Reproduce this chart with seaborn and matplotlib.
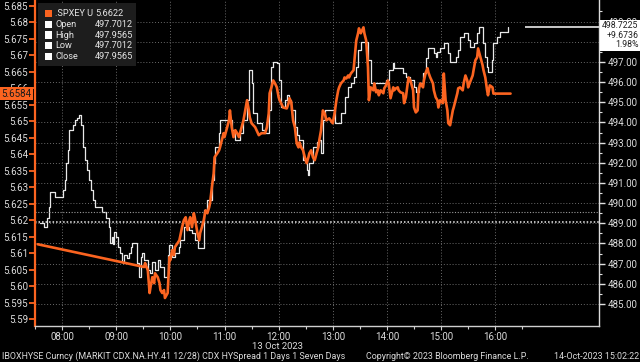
import matplotlib
matplotlib.use("Agg")
import matplotlib.pyplot as plt
from matplotlib.patches import Rectangle
import pandas as pd
import seaborn as sns

DAY = "2023-10-13 "
ORANGE = "#fb6420"
WHITE = "#e8e8e8"
TXT = "#dcdcdc"
GRID = "#6a6a6a"

# ---- .SPXEY U (left axis) ----
spx_times = ["07:33", "09:31", "09:32", "09:35", "09:37", "09:38", "09:40", "09:42", "09:43", "09:46",
             "09:48", "09:49", "09:51", "09:53", "09:54", "09:57", "09:59", "10:00", "10:02", "10:04",
             "10:05", "10:10", "10:13", "10:15", "10:17", "10:19", "10:21", "10:22", "10:24", "10:26",
             "10:27", "10:30", "10:32", "10:33", "10:35", "10:37", "10:39", "10:41", "10:43", "10:44",
             "10:46", "10:48", "10:49", "10:52", "10:54", "10:55", "10:57", "10:59", "11:00", "11:03",
             "11:05", "11:06", "11:08", "11:10", "11:12", "11:14", "11:16", "11:19", "11:21", "11:23",
             "11:25", "11:27", "11:28", "11:30", "11:34", "11:38", "11:41", "11:45", "11:47", "11:49",
             "11:50", "11:52", "11:54", "11:56", "11:58", "12:00", "12:01", "12:05", "12:09", "12:11",
             "12:12", "12:14", "12:16", "12:18", "12:20", "12:22", "12:23", "12:25", "12:27", "12:29",
             "12:31", "12:33", "12:34", "12:36", "12:38", "12:40", "12:42", "12:44", "12:45", "12:47",
             "12:49", "12:51", "12:53", "12:56", "13:00", "13:02", "13:04", "13:06", "13:07", "13:09",
             "13:12", "13:13", "13:15", "13:17", "13:18", "13:20", "13:23", "13:24", "13:26", "13:28",
             "13:29", "13:31", "13:34", "13:35", "13:37", "13:39", "13:40", "13:42", "13:45", "13:46",
             "13:48", "13:50", "13:51", "13:53", "13:56", "13:57", "13:59", "14:01", "14:02", "14:04",
             "14:07", "14:08", "14:10", "14:12", "14:13", "14:15", "14:18", "14:19", "14:21", "14:23",
             "14:24", "14:26", "14:29", "14:30", "14:32", "14:34", "14:35", "14:37", "14:40", "14:41",
             "14:43", "14:45", "14:46", "14:48", "14:51", "14:52", "14:54", "14:56", "14:57", "14:59",
             "15:02", "15:03", "15:05", "15:07", "15:08", "15:10", "15:13", "15:14", "15:16", "15:18",
             "15:19", "15:21", "15:24", "15:25", "15:27", "15:29", "15:30", "15:32", "15:35", "15:36",
             "15:38", "15:40", "15:41", "15:44", "15:46", "15:47", "15:49", "15:51", "15:52", "15:54",
             "15:57", "15:58", "16:17"]
spx_values = [5.6127, 5.6058, 5.6070, 5.6048, 5.5979, 5.5997, 5.6027, 5.6009, 5.6039, 5.6027,
              5.6009, 5.5988, 5.5979, 5.5988, 5.5964, 5.5979, 5.6088, 5.6079, 5.6109, 5.6094,
              5.6118, 5.6139, 5.6179, 5.6200, 5.6209, 5.6170, 5.6200, 5.6209, 5.6179, 5.6221,
              5.6209, 5.6161, 5.6139, 5.6161, 5.6179, 5.6200, 5.6230, 5.6221, 5.6239, 5.6252,
              5.6300, 5.6342, 5.6391, 5.6403, 5.6412, 5.6421, 5.6442, 5.6464, 5.6452, 5.6482,
              5.6503, 5.6533, 5.6482, 5.6452, 5.6473, 5.6464, 5.6452, 5.6482, 5.6503, 5.6533,
              5.6564, 5.6533, 5.6512, 5.6494, 5.6482, 5.6458, 5.6464, 5.6464, 5.6482, 5.6524,
              5.6585, 5.6603, 5.6624, 5.6615, 5.6603, 5.6573, 5.6564, 5.6542, 5.6539, 5.6555,
              5.6570, 5.6558, 5.6503, 5.6482, 5.6433, 5.6421, 5.6436, 5.6421, 5.6412, 5.6391,
              5.6373, 5.6391, 5.6403, 5.6412, 5.6391, 5.6382, 5.6403, 5.6421, 5.6442, 5.6473,
              5.6533, 5.6524, 5.6503, 5.6509, 5.6494, 5.6524, 5.6564, 5.6594, 5.6603, 5.6615,
              5.6624, 5.6633, 5.6630, 5.6639, 5.6633, 5.6645, 5.6655, 5.6685, 5.6745, 5.6767,
              5.6782, 5.6767, 5.6785, 5.6767, 5.6745, 5.6664, 5.6564, 5.6603, 5.6594, 5.6615,
              5.6588, 5.6594, 5.6579, 5.6594, 5.6585, 5.6600, 5.6609, 5.6624, 5.6615, 5.6570,
              5.6603, 5.6594, 5.6600, 5.6603, 5.6594, 5.6588, 5.6585, 5.6555, 5.6573, 5.6615,
              5.6633, 5.6624, 5.6594, 5.6542, 5.6527, 5.6533, 5.6594, 5.6615, 5.6603, 5.6624,
              5.6648, 5.6661, 5.6648, 5.6633, 5.6615, 5.6594, 5.6573, 5.6564, 5.6542, 5.6564,
              5.6555, 5.6645, 5.6564, 5.6533, 5.6494, 5.6488, 5.6533, 5.6542, 5.6564, 5.6585,
              5.6600, 5.6603, 5.6594, 5.6615, 5.6639, 5.6624, 5.6603, 5.6618, 5.6639, 5.6655,
              5.6685, 5.6694, 5.6721, 5.6691, 5.6670, 5.6655, 5.6633, 5.6594, 5.6579, 5.6609,
              5.6603, 5.6584, 5.6584]

# ---- IBOXHYSE (right axis, step line) ----
cdx_times = ["07:36", "07:40", "07:43", "07:45", "07:47", "07:52", "08:01", "08:03", "08:04", "08:07",
             "08:08", "08:12", "08:14", "08:16", "08:19", "08:21", "08:23", "08:25", "08:28", "08:30",
             "08:32", "08:34", "08:37", "08:44", "08:49", "08:52", "08:53", "08:55", "08:56", "08:58",
             "09:00", "09:02", "09:04", "09:06", "09:08", "09:09", "09:12", "09:14", "09:16", "09:18",
             "09:23", "09:25", "09:27", "09:29", "09:31", "09:35", "09:37", "09:40", "09:43", "09:46",
             "09:49", "09:53", "09:57", "09:59", "10:02", "10:05", "10:10", "10:11", "10:15", "10:21",
             "10:24", "10:27", "10:31", "10:37", "10:41", "10:46", "10:48", "10:49", "10:54", "10:55",
             "11:08", "11:12", "11:17", "11:21", "11:25", "11:27", "11:30", "11:32", "11:36", "11:41",
             "11:45", "11:49", "11:52", "11:54", "11:58", "12:00", "12:03", "12:07", "12:09", "12:12",
             "12:14", "12:18", "12:20", "12:23", "12:27", "12:31", "12:33", "12:34", "12:38", "12:42",
             "12:45", "12:47", "12:49", "12:51", "13:02", "13:09", "13:13", "13:17", "13:20", "13:24",
             "13:26", "13:28", "13:31", "13:39", "13:42", "13:59", "14:02", "14:07", "14:08", "14:18",
             "14:21", "14:26", "14:30", "14:32", "14:35", "14:40", "14:43", "14:45", "14:52", "14:54",
             "14:56", "14:59", "15:03", "15:08", "15:10", "15:16", "15:19", "15:21", "15:25", "15:30",
             "15:32", "15:36", "15:40", "15:42", "15:46", "15:47", "15:49", "15:51", "15:52", "15:56",
             "15:58", "16:02", "16:05", "16:14"]
cdx_values = [489.02, 488.82, 489.27, 489.81, 490.55, 490.31, 490.65, 491.15, 491.99, 492.64,
              493.63, 493.88, 494.12, 494.22, 494.37, 493.88, 492.79, 492.14, 491.65, 491.15,
              490.65, 490.16, 489.81, 489.56, 489.27, 488.82, 488.03, 488.32, 487.98, 488.57,
              488.32, 487.83, 487.53, 487.08, 487.04, 487.43, 487.28, 487.53, 487.83, 488.03,
              487.04, 486.34, 487.33, 487.53, 487.18, 486.69, 486.54, 487.08, 486.69, 487.18,
              486.84, 486.34, 487.43, 487.93, 487.33, 487.53, 487.83, 488.18, 488.82, 488.67,
              488.52, 488.18, 487.78, 489.66, 490.16, 491.15, 491.99, 492.79, 493.48, 494.12,
              493.63, 493.13, 493.48, 494.12, 495.12, 496.60, 495.96, 494.47, 493.98, 493.63,
              493.48, 494.62, 496.75, 497.00, 496.95, 496.11, 494.77, 495.12, 495.36, 495.12,
              494.62, 493.78, 493.38, 493.13, 492.14, 491.65, 491.40, 491.99, 492.79, 493.03,
              493.13, 492.49, 494.12, 494.62, 493.98, 494.47, 495.26, 495.76, 495.96, 496.26,
              496.75, 497.59, 497.99, 497.10, 495.96, 496.11, 496.60, 496.95, 496.70, 496.45,
              496.26, 496.11, 495.76, 495.51, 495.96, 496.45, 497.20, 497.69, 497.45, 497.25,
              497.50, 497.69, 497.94, 497.45, 497.00, 497.25, 497.59, 498.24, 498.44, 498.09,
              497.74, 497.94, 498.44, 498.74, 498.69, 497.94, 497.25, 496.75, 496.50, 497.10,
              497.94, 498.24, 498.49, 498.7225]

left_ticks = [5.59, 5.595, 5.60, 5.605, 5.61, 5.615, 5.62, 5.625, 5.63, 5.635,
              5.64, 5.645, 5.65, 5.655, 5.66, 5.665, 5.67, 5.675, 5.68, 5.685]
left_tick_labels = ["5.59", "5.595", "5.60", "5.605", "5.61", "5.615", "5.62", "5.625", "5.63", "5.635",
                    "5.64", "5.645", "5.65", "5.655", "5.66", "5.665", "5.67", "5.675", "5.68", "5.685"]
right_ticks = [485, 486, 487, 488, 489, 490, 491, 492, 493, 494, 495, 496, 497, 498, 499]
# 498.00 sits entirely under the last-price tag in the reference
right_tick_labels = ["485.00", "486.00", "487.00", "488.00", "489.00", "490.00", "491.00", "492.00",
                     "493.00", "494.00", "495.00", "496.00", "497.00", "", "499.00"]
hour_labels = ["08:00", "09:00", "10:00", "11:00", "12:00", "13:00", "14:00", "15:00", "16:00"]
half_hour_labels = ["07:30", "08:30", "09:30", "10:30", "11:30", "12:30", "13:30", "14:30", "15:30", "16:30"]

legend_names = [".SPXEY U", "Open", "High", "Low", "Close"]
legend_values = ["5.6622", "497.7012", "497.9565", "497.7012", "497.9565"]
legend_colors = [ORANGE, "white", "white", "white", "white"]

spx_last = 5.6584
spx_ref = 5.6225
cdx_last = 498.7225
cdx_prev_close = 489.0489
cdx_change = "+9.6736"
cdx_pct = "1.98%"

# ---------------------------------------------------------------
sns.set_theme(style="dark")
plt.rcParams["font.family"] = ["Roboto", "DejaVu Sans"]
plt.rcParams["axes.facecolor"] = "black"
plt.rcParams["figure.facecolor"] = "black"

W, H = 640, 362
fig = plt.figure(figsize=(6.4, 3.62), dpi=100, facecolor="black")
ax = fig.add_axes([35 / W, 1 - 326 / H, 564 / W, 326 / H])
ax2 = ax.twinx()
ax.set_zorder(ax2.get_zorder() + 1)
ax.patch.set_visible(False)
ax2.patch.set_facecolor("black")

spx_df = pd.DataFrame({"time": pd.to_datetime([DAY + t for t in spx_times]), "value": spx_values})
cdx_df = pd.DataFrame({"time": pd.to_datetime([DAY + t for t in cdx_times]), "value": cdx_values})

xmin = pd.Timestamp(DAY + "07:33:20")
xmax = pd.Timestamp(DAY + "17:55")
hours = pd.to_datetime([DAY + h for h in hour_labels])
halves = pd.to_datetime([DAY + h for h in half_hour_labels])

# grid
for h in hours:
    ax2.axvline(h, color=GRID, lw=0.7, ls=(0, (1, 2)), zorder=0)
for v in right_ticks:
    ax2.axhline(v, color=GRID, lw=0.7, ls=(0, (1, 2)), zorder=0)
ax2.axhline(cdx_prev_close, color="#f0f0f0", lw=1.1, ls=(0, (1, 1.3)), zorder=0)
ax.axhline(spx_ref, color="#9a9a9a", lw=0.8, ls=(0, (1, 1.5)), zorder=0)

sns.lineplot(data=cdx_df, x="time", y="value", ax=ax2, color=WHITE, linewidth=0.9,
             drawstyle="steps-post", estimator=None)
sns.lineplot(data=spx_df, x="time", y="value", ax=ax, color=ORANGE, linewidth=1.9,
             estimator=None)

ax2.hlines(cdx_last, pd.Timestamp(DAY + "16:33"), xmax, color="#c8c8c8", lw=1.4)

ax.set_xlim(xmin, xmax)
ax.set_ylim(5.5879, 5.6868)
ax2.set_ylim(483.91, 500.07)

# axes styling
for a in (ax, ax2):
    a.set_xlabel("")
    a.set_ylabel("")
    a.grid(False)
ax.spines["top"].set_visible(False)
ax.spines["right"].set_visible(False)
ax.spines["left"].set_color(ORANGE)
ax.spines["left"].set_linewidth(1.6)
ax.spines["bottom"].set_color("#cfcfcf")
ax.spines["bottom"].set_linewidth(1.0)
for s in ("top", "left", "bottom"):
    ax2.spines[s].set_visible(False)
ax2.spines["right"].set_color("#dcdcdc")
ax2.spines["right"].set_linewidth(1.0)

ax.set_yticks(left_ticks)
ax.set_yticklabels(left_tick_labels)
ax.tick_params(axis="y", which="major", left=True, colors=ORANGE, labelcolor=TXT,
               length=4, width=1.3, labelsize=7, pad=1)

ax2.set_yticks(right_ticks)
ax2.set_yticklabels(right_tick_labels)
ax2.set_yticks([v + 0.5 for v in right_ticks], minor=True)
ax2.tick_params(axis="y", which="major", right=True, colors="#e0e0e0", labelcolor=TXT,
                length=4, width=1.0, labelsize=7, pad=2)
ax2.tick_params(axis="y", which="minor", right=True, colors="#e0e0e0", length=2, width=0.8)

ax.set_xticks(hours)
ax.set_xticklabels(hour_labels)
ax.set_xticks(halves, minor=True)
ax.tick_params(axis="x", which="major", bottom=True, colors="#cfcfcf", labelcolor=TXT,
               length=3, width=0.8, labelsize=7, pad=1)
ax.tick_params(axis="x", which="minor", bottom=True, colors="#cfcfcf", length=2, width=0.8)

# last-value tags
ax.annotate(f"{spx_last:.4f}", xy=(0, spx_last), xycoords=("axes fraction", "data"),
            xytext=(-2.5, 0), textcoords="offset points", ha="right", va="center",
            fontsize=7, color="#1a1a1a", annotation_clip=False,
            bbox=dict(boxstyle="square,pad=0.18", fc=ORANGE, ec="none"))
ax2.annotate(f"{cdx_last:.4f}\n{cdx_change}\n{cdx_pct}", xy=(1, cdx_last),
             xycoords=("axes fraction", "data"), xytext=(2.2, 4.2), textcoords="offset points",
             ha="left", va="top", multialignment="right", fontsize=6.3, color="#202020",
             linespacing=1.05, annotation_clip=False,
             bbox=dict(boxstyle="square,pad=0.2", fc="white", ec="none"))

# legend box
fig.add_artist(Rectangle((38 / W, 1 - 66 / H), 98 / W, 63 / H, transform=fig.transFigure,
                         fc="#1d1d1d", ec="none", zorder=5))
for i, (nm, val, col) in enumerate(zip(legend_names, legend_values, legend_colors)):
    yc = 13.3 + 10.85 * i
    fig.add_artist(Rectangle((44.5 / W, 1 - (yc + 3.6) / H), 7.2 / W, 7.2 / H,
                             transform=fig.transFigure, fc=col, ec="none", zorder=6))
    fig.text(55 / W, 1 - yc / H, nm, ha="left", va="center", fontsize=6.6, color="#e6e6e6", zorder=7)
    fig.text(95 / W, 1 - yc / H, val, ha="left", va="center", fontsize=6.6, color="#e6e6e6", zorder=7)

# date and footer
fig.text(278 / W, 1 - 346.5 / H, "13 Oct 2023", ha="center", va="center", fontsize=6.8, color=TXT)
fig.text(2 / W, 1 - 356.5 / H, "IBOXHYSE Curncy (MARKIT CDX.NA.HY.41 12/28) CDX HYSpread 1 Days 1 Seven Days",
         ha="left", va="center", fontsize=6.4, color=TXT)
fig.text(366 / W, 1 - 356.5 / H, "Copyright\u00a9 2023 Bloomberg Finance L.P.",
         ha="left", va="center", fontsize=6.4, color=TXT)
fig.text(639 / W, 1 - 356.5 / H, "14-Oct-2023 15:02:22",
         ha="right", va="center", fontsize=6.4, color=TXT)

fig.savefig("out.png", dpi=100, facecolor="black")
